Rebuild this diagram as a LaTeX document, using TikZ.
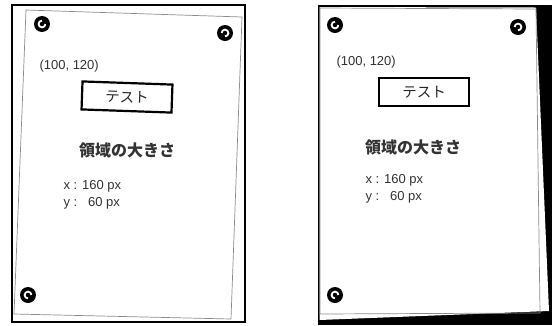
\documentclass[tikz,border=0pt]{standalone}
\usepackage{fontspec}
\setmainfont{Liberation Sans}
\newfontfamily\jp{Noto Sans CJK JP}
\begin{document}
\begin{tikzpicture}[x=1pt,y=-1pt,
  frame/.style={draw=black,line width=1.5pt},
  paper/.style={draw=black!45,line width=0.7pt},
  handle/.style={circle,fill=black,minimum size=16pt,inner sep=0pt},
  hole/.style={draw=white,line width=1.8pt},
  coord/.style={anchor=west,font=\fontsize{13}{15}\selectfont,text=black!80},
  btn/.style={draw=black,line width=2.2pt,minimum width=90pt,minimum height=28pt,inner sep=0pt,font=\jp\fontsize{14.5}{16}\selectfont,text=black!85},
  title/.style={font=\jp\bfseries\fontsize{16}{18}\selectfont,text=black!80},
  val/.style={anchor=west,font=\fontsize{13}{15}\selectfont,text=black!80}]
\useasboundingbox (0,0) rectangle (552,325);
% ---------- left panel ----------
\draw[frame] (12,5) rectangle (245,322);
\draw[paper] (26,10) -- (242,17) -- (231,319) -- (14,314) -- cycle;
\node[handle] (l1) at (42,24) {};
\node[handle] (l2) at (225,33) {};
\node[handle] (l3) at (28,295) {};
\draw[hole] (l1.center) ++(0:3.4) arc[start angle=0,end angle=270,radius=3.4];
\draw[hole] (l2.center) ++(180:3.4) arc[start angle=180,end angle=450,radius=3.4];
\draw[hole] (l3.center) ++(90:3.4) arc[start angle=90,end angle=360,radius=3.4];
\node[coord] (lc) at (36,66) {(100, 120)};
\node[btn,rotate=-2] (lb) at (127,97) {テスト};
\node[title] (lt) at (127,150) {領域の大きさ};
\node[val] (lx) at (60,186) {x : 160 px};
\node[val] (ly) at (60,203) {y :\ \ \ 60 px};
% ---------- right panel ----------
\fill[black] (318,5) rectangle (552,325);
\fill[white] (319.5,7) -- (536,7.5) -- (549,311) -- (319.5,320) -- cycle;
\draw[paper] (320,8) -- (536,9) -- (540,313) -- (320,314) -- cycle;
\node[handle] (r1) at (335,25) {};
\node[handle] (r2) at (518,27) {};
\node[handle] (r3) at (335,295) {};
\draw[hole] (r1.center) ++(0:3.4) arc[start angle=0,end angle=270,radius=3.4];
\draw[hole] (r2.center) ++(180:3.4) arc[start angle=180,end angle=450,radius=3.4];
\draw[hole] (r3.center) ++(90:3.4) arc[start angle=90,end angle=360,radius=3.4];
\node[coord] (rc) at (333,62) {(100, 120)};
\node[btn] (rb) at (424,92) {テスト};
\node[title] (rt) at (413,147) {領域の大きさ};
\node[val] (rx) at (362,180) {x : 160 px};
\node[val] (ry) at (362,197) {y :\ \ \ 60 px};
\end{tikzpicture}
\end{document}
